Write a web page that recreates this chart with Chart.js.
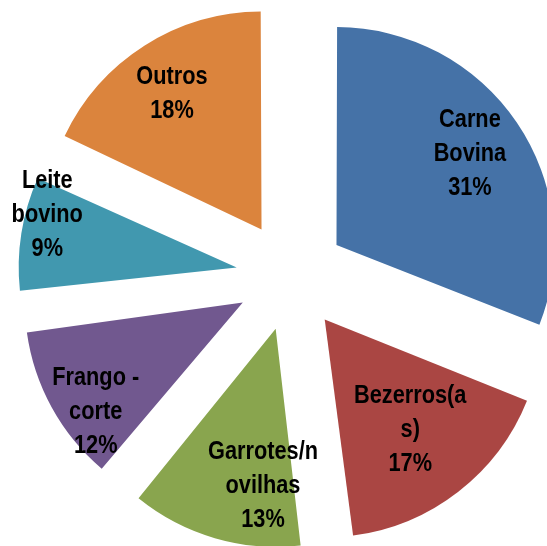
<!DOCTYPE html>
<html>
<head>
<meta charset="utf-8">
<title>Pie</title>
<script src="https://cdn.jsdelivr.net/npm/chart.js@4.4.0/dist/chart.umd.min.js"></script>
<style>
	html, body { margin: 0; padding: 0; background: #fff; }
	#pieChart { display: block; }
</style>
</head>
<body>
<canvas id="pieChart" width="547" height="546"></canvas>
<script>
	// categorias (já quebradas em linhas como no original)
	var categories = [
		['Carne', 'Bovina'],
		['Bezerros(a', 's)'],
		['Garrotes/n', 'ovilhas'],
		['Frango -', 'corte'],
		['Leite', 'bovino'],
		['Outros']
	];
	// participação em %
	var shares = [31, 17, 13, 12, 9, 18];
	var sliceColors = ['#4572A7', '#AA4643', '#89A54E', '#71588F', '#4198AF', '#DB843D'];

	// O ArcElement aumenta o raio das fatias pequenas quando há offset;
	// aqui desfazemos isso para que todas fiquem com o mesmo raio.
	var evenRadius = {
		id : 'evenRadius',
		afterDatasetUpdate : function(chart, args) {
			var meta = args.meta;
			var R = meta.controller.outerRadius;
			meta.data.forEach(function(arc) {
				var off = (arc.options.offset || 0) / 4;
				var fix = 1 - Math.sin(Math.min(Math.PI, arc.circumference || 0));
				arc.outerRadius = R - off * fix;
			});
		}
	};

	// rótulos desenhados dentro das fatias (estilo "melhor ajuste" do Excel)
	var sliceLabels = {
		id : 'sliceLabels',
		afterDatasetsDraw : function(chart, args, opts) {
			var ctx = chart.ctx;
			var meta = chart.getDatasetMeta(0);
			var R = meta.controller.outerRadius;
			ctx.save();
			ctx.font = opts.font;
			ctx.fillStyle = '#000';
			ctx.textAlign = 'center';
			ctx.textBaseline = 'middle';
			meta.data.forEach(function(arc, i) {
				var p = arc.getProps(['x', 'y', 'startAngle', 'endAngle'], true);
				// o ArcElement desloca a fatia em offset/4
				var off = (arc.options.offset || 0) / 4;
				var mid = (p.startAngle + p.endAngle) / 2 + opts.angleShift[i] * Math.PI / 180;
				var r = off + opts.radial[i] * R;
				var cx = p.x + Math.cos(mid) * r;
				var cy = p.y + Math.sin(mid) * r;
				var lines = categories[i].concat([shares[i] + '%']);
				var top = cy - (lines.length - 1) * opts.lineHeight / 2;
				lines.forEach(function(t, k) {
					ctx.save();
					ctx.translate(cx, top + k * opts.lineHeight);
					ctx.scale(opts.narrow, 1);
					ctx.fillText(t, 0, 0);
					ctx.restore();
				});
			});
			ctx.restore();
		}
	};

	var pieCanvas = document.getElementById('pieChart').getContext('2d');
	var pieChart = new Chart(pieCanvas, {
		type : 'pie',
		data : {
			labels : categories,
			datasets : [{
				data : shares,
				backgroundColor : sliceColors,
				borderWidth : 0,
				offset : 220,
				clip : false
			}]
		},
		options : {
			responsive : false,
			devicePixelRatio : 1,
			animation : false,
			radius : 218,
			layout : { padding : { left : 35, right : 0, top : 6, bottom : 0 } },
			plugins : {
				legend : { display : false },
				tooltip : { enabled : false },
				sliceLabels : {
					font : 'bold 25px "Liberation Sans", Arial, sans-serif',
					narrow : 0.87,
					lineHeight : 34,
					radial : [0.74, 0.64, 0.72, 0.84, 0.90, 0.745],
					angleShift : [0, 0, -8.6, -6.1, 5, -0.8]
				}
			}
		},
		plugins : [evenRadius, sliceLabels]
	});
</script>
</body>
</html>
